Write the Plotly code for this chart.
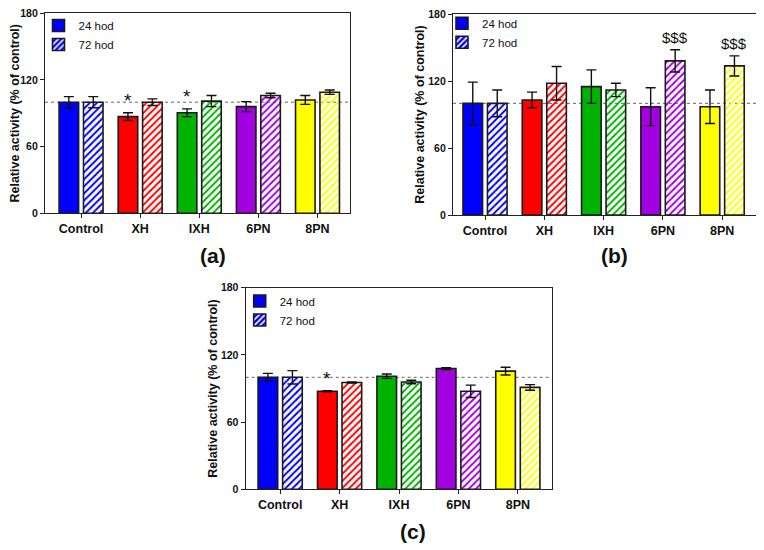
import plotly.graph_objects as go

categories = ["Control", "XH", "IXH", "6PN", "8PN"]
bar_colors = ["#0000ff", "#ff0000", "#00b300", "#a200e0", "#ffff00"]
series_names = ["24 hod", "72 hod"]

# panel (a)
a_24 = [100, 87, 90.5, 96, 102]
a_24_err = [5, 3.5, 3.5, 4.5, 4]
a_72 = [100, 100, 101, 106, 109]
a_72_err = [5, 3, 5, 2, 2]
a_sig_24 = ["", "*", "*", "", ""]
a_sig_72 = ["", "", "", "", ""]

# panel (b)
b_24 = [100, 103, 115, 97, 97]
b_24_err = [19, 7, 15, 17, 15]
b_72 = [100, 118, 112, 138, 133.5]
b_72_err = [12, 15, 6, 10, 9]
b_sig_24 = ["", "", "", "", ""]
b_sig_72 = ["", "", "", "$$$", "$$$"]

# panel (c)
c_24 = [100, 87.5, 101, 107.8, 105.5]
c_24_err = [3.5, 0.5, 2, 0.8, 3.5]
c_72 = [100, 95.3, 95.8, 87.5, 91]
c_72_err = [6, 0.5, 1.5, 5.5, 2.5]
c_sig_24 = ["", "*", "", "", ""]
c_sig_72 = ["", "", "", "", ""]

y_ticks = [0, 60, 120, 180]
reference_level = 100
panel_labels = ["(a)", "(b)", "(c)"]

FONT = "Liberation Sans, Arial, sans-serif"
W, H = 764, 550
OFF = 8  # page body margin of the exported html


def px_x(x):
    return (x - OFF) / W


def px_y(y):
    return 1 - (y - OFF) / H


panels = [
    dict(v24=a_24, e24=a_24_err, v72=a_72, e72=a_72_err, s24=a_sig_24, s72=a_sig_72,
         xdom=[px_x(45), px_x(350)], ydom=[px_y(213.3), px_y(13.3)], xr=[-0.61, 4.55]),
    dict(v24=b_24, e24=b_24_err, v72=b_72, e72=b_72_err, s24=b_sig_24, s72=b_sig_72,
         xdom=[px_x(453), px_x(756)], ydom=[px_y(215), px_y(14)], xr=[-0.54, 4.57]),
    dict(v24=c_24, e24=c_24_err, v72=c_72, e72=c_72_err, s24=c_sig_24, s72=c_sig_72,
         xdom=[px_x(245.7), px_x(551.7)], ydom=[px_y(489.3), px_y(287.7)], xr=[-0.58, 4.57]),
]
legend_pos = [(px_x(38.5), px_y(11)), (px_x(442), px_y(8.8)), (px_x(239.7), px_y(286.5))]
label_pos = [(px_x(213), px_y(255)), (px_x(614), px_y(255)), (px_x(413), px_y(531))]

fig = go.Figure()
annotations = []
shapes = []
layout = {}

for i, p in enumerate(panels):
    sfx = "" if i == 0 else str(i + 1)
    xa, ya = "x" + sfx, "y" + sfx
    lg = "legend" + sfx
    err_style = dict(type="data", color="#111", thickness=1.4, width=5)
    fig.add_trace(go.Bar(
        x=categories, y=p["v24"], name=series_names[0], xaxis=xa, yaxis=ya, legend=lg,
        marker=dict(color=bar_colors, line=dict(color="#1a1a1a", width=1.6)),
        error_y=dict(array=p["e24"], **err_style),
    ))
    fig.add_trace(go.Bar(
        x=categories, y=p["v72"], name=series_names[1], xaxis=xa, yaxis=ya, legend=lg,
        marker=dict(color=bar_colors, line=dict(color="#1a1a1a", width=1.6),
                    pattern=dict(shape="/", bgcolor=bar_colors, fgcolor="white",
                                 size=5, solidity=0.4)),
        error_y=dict(array=p["e72"], **err_style),
    ))
    axis_common = dict(showline=True, linecolor="#222", linewidth=1.3, mirror=True,
                       showgrid=False, zeroline=False, ticks="outside", ticklen=4,
                       tickcolor="#222", tickwidth=1.3, automargin=False,
                       ticklabeloverflow="allow")
    layout["xaxis" + sfx] = dict(domain=p["xdom"], anchor=ya, range=p["xr"],
                                 type="category", categoryorder="array",
                                 categoryarray=categories,
                                 tickfont=dict(family=FONT, size=12.5, color="#111", weight="bold"),
                                 **axis_common)
    layout["yaxis" + sfx] = dict(domain=p["ydom"], anchor=xa, range=[0, 180],
                                 tickvals=y_ticks, ticktext=[str(t) for t in y_ticks],
                                 tickfont=dict(family=FONT, size=10.5, color="#111", weight="bold"),
                                 title=dict(text="Relative activity (% of control)",
                                            font=dict(family=FONT, size=12.5, color="#111", weight="bold"),
                                            standoff=0),
                                 **axis_common)
    layout[lg] = dict(x=legend_pos[i][0], y=legend_pos[i][1], xanchor="left", yanchor="top",
                      bgcolor="rgba(0,0,0,0)", font=dict(family=FONT, size=11.5, color="#111"),
                      tracegroupgap=0)
    shapes.append(dict(type="line", xref=xa + " domain", yref=ya, x0=0, x1=1,
                       y0=reference_level, y1=reference_level, layer="below",
                       line=dict(color="#666", width=1, dash="dot")))
    for j, cat in enumerate(categories):
        for sig, val, err, off in ((p["s24"][j], p["v24"][j], p["e24"][j], -0.207),
                                    (p["s72"][j], p["v72"][j], p["e72"][j], 0.207)):
            if sig:
                is_star = sig == "*"
                annotations.append(dict(
                    x=j + off, y=val + err, xref=xa, yref=ya, text=sig, showarrow=False,
                    yanchor="bottom", yshift=0 if is_star else 2,
                    font=dict(family=FONT, size=19 if is_star else 15, color="#111")))
    annotations.append(dict(x=label_pos[i][0], y=label_pos[i][1], xref="paper", yref="paper",
                            text=panel_labels[i], showarrow=False, xanchor="center", yanchor="middle",
                            font=dict(family=FONT, size=21, color="#111", weight="bold")))

fig.update_layout(
    template="none",
    width=W, height=H, margin=dict(l=0, r=0, t=0, b=0, autoexpand=False),
    paper_bgcolor="white", plot_bgcolor="white",
    barmode="group", bargap=0.174, bargroupgap=0.2,
    annotations=annotations, shapes=shapes, showlegend=True,
    **layout,
)

fig.write_html("out.html")
